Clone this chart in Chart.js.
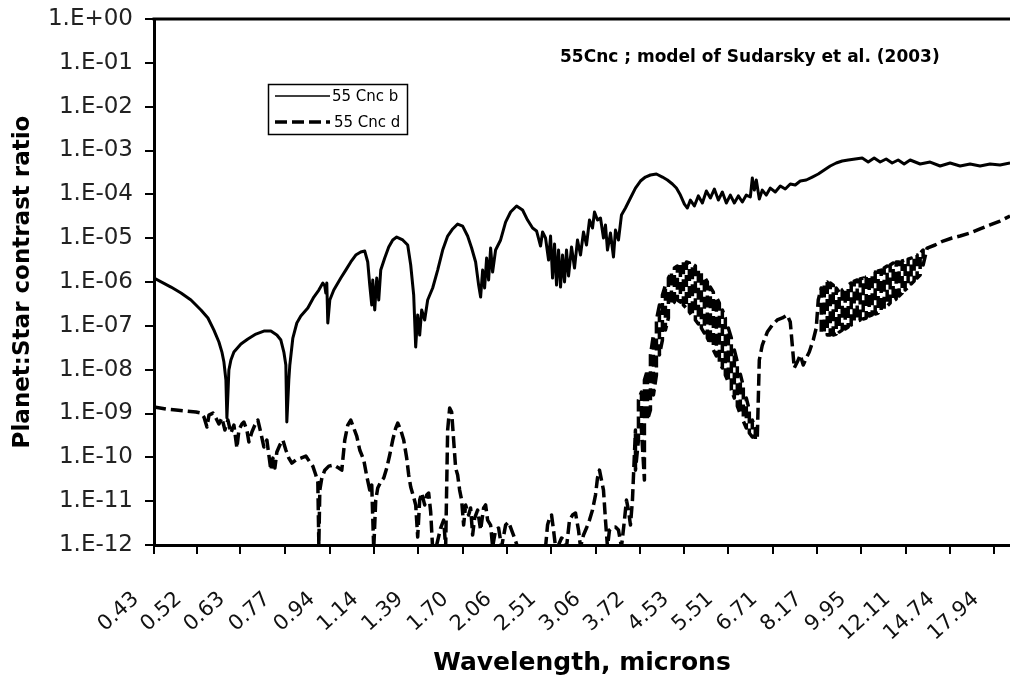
<!DOCTYPE html>
<html>
<head>
<meta charset="utf-8">
<script src="https://cdn.jsdelivr.net/npm/chart.js@4.4.1/dist/chart.umd.min.js"></script>
<style>
  html, body { margin: 0; padding: 0; background: #fff; }
</style>
</head>
<body>
<canvas id="myChart" width="1010" height="685"></canvas>
<script>
// Axis labels
const xTickLabels = ['0.43', '0.52', '0.63', '0.77', '0.94', '1.14', '1.39', '1.70', '2.06', '2.51',
  '3.06', '3.72', '4.53', '5.51', '6.71', '8.17', '9.95', '12.11', '14.74', '17.94'];
const yTickLabels = ['1.E+00', '1.E-01', '1.E-02', '1.E-03', '1.E-04', '1.E-05', '1.E-06',
  '1.E-07', '1.E-08', '1.E-09', '1.E-10', '1.E-11', '1.E-12'];
const noteText = '55Cnc ; model of Sudarsky et al. (2003)';

// 55 Cnc b - wavelength (microns) and planet:star contrast
const bWave = [
  0.430, 0.4637, 0.4848, 0.5067, 0.5297, 0.5464, 0.5611, 0.5737, 0.5814, 0.5866,
  0.5918, 0.5944, 0.5970, 0.5997, 0.6051, 0.6132, 0.6326, 0.6525, 0.6761, 0.7005,
  0.7226, 0.7421, 0.7554, 0.7655, 0.7723, 0.7757, 0.7826, 0.7861, 0.7967, 0.8109,
  0.8255, 0.8515, 0.8745, 0.8942, 0.9102, 0.9182, 0.9223, 0.9264, 0.9305, 0.9388,
  0.9556, 0.9858, 1.0078, 1.0305, 1.0535, 1.0772, 1.0965, 1.1111, 1.1211, 1.1311,
  1.1362, 1.1462, 1.1564, 1.1668, 1.1772, 1.1982, 1.2197, 1.2416, 1.2637, 1.2979,
  1.3269, 1.3448, 1.3627, 1.3748, 1.3871, 1.3995, 1.4120, 1.4308, 1.4500, 1.4826,
  1.5158, 1.5499, 1.5846, 1.6202, 1.6564, 1.6937, 1.7316, 1.7627, 1.7941, 1.8183,
  1.8345, 1.8509, 1.8673, 1.8839, 1.9008, 1.9178, 1.9348, 1.9606, 2.0047, 2.0496,
  2.0957, 2.1521, 2.2102, 2.2597, 2.3106, 2.3518, 2.3940, 2.4154, 2.4476, 2.4806,
  2.5027, 2.5250, 2.5473, 2.5700, 2.5931, 2.6161, 2.6395, 2.6629, 2.6866, 2.7108,
  2.7471, 2.7836, 2.8209, 2.8589, 2.8970, 2.9358, 2.9752, 3.0152, 3.0420, 3.0827,
  3.1242, 3.1659, 3.1941, 3.2226, 3.2659, 3.3095, 3.3390, 3.3840, 3.4293, 3.4904,
  3.5689, 3.6488, 3.7309, 3.8142, 3.9001, 4.0051, 4.1134, 4.2054, 4.3000, 4.3767,
  4.4553, 4.5348, 4.5955, 4.6574, 4.7405, 4.8257, 4.9121, 4.9997, 5.0895, 5.1803,
  5.2734, 5.3678, 5.4636, 5.5618, 5.6611, 5.7628, 5.8660, 5.9706, 6.0779, 6.1321,
  6.1864, 6.2415, 6.3253, 6.4103, 6.5247, 6.6418, 6.7904, 6.9432, 7.0984, 7.2581,
  7.4205, 7.5874, 7.7916, 8.0023, 8.2182, 8.4394, 8.6675, 8.9009, 9.1416, 9.3882,
  9.6835, 9.9897, 10.260, 10.536, 10.820, 11.112, 11.412, 11.720, 12.035, 12.361,
  12.922, 13.508, 14.121, 14.761, 15.431, 16.131, 16.863, 17.628, 18.427, 19.264
];
const bRatio = [
  1.23e-6, 7.67e-7, 5.6e-7, 3.88e-7, 2.30e-7, 1.51e-7, 8.0e-8, 4.27e-8, 2.52e-8, 1.49e-8,
  5.8e-9, 7.9e-10, 2.64e-9, 9.8e-9, 1.66e-8, 2.52e-8, 3.85e-8, 5.0e-8, 6.5e-8, 7.6e-8,
  7.6e-8, 6.17e-8, 4.74e-8, 2.52e-8, 1.28e-8, 6.4e-10, 5.8e-9, 1.28e-8, 5.27e-8, 1.16e-7,
  1.67e-7, 2.55e-7, 4.54e-7, 6.56e-7, 9.5e-7, 8.1e-7, 5.6e-7, 9.5e-7, 1.16e-7, 3.88e-7,
  6.56e-7, 1.23e-6, 1.87e-6, 2.86e-6, 4.12e-6, 4.83e-6, 5.09e-6, 2.86e-6, 8.5e-7, 2.98e-7,
  1.11e-6, 2.30e-7, 1.23e-6, 3.88e-7, 1.87e-6, 3.52e-6, 6.28e-6, 9.1e-6, 1.06e-5, 9.1e-6,
  6.98e-6, 2.44e-6, 5.05e-7, 3.28e-8, 1.77e-7, 6.17e-8, 2.30e-7, 1.36e-7, 3.88e-7, 7.3e-7,
  1.87e-6, 5.36e-6, 1.12e-5, 1.62e-5, 2.10e-5, 1.89e-5, 1.12e-5, 5.96e-6, 2.86e-6, 8.5e-7,
  4.54e-7, 1.87e-6, 7.3e-7, 3.52e-6, 1.11e-6, 5.96e-6, 1.69e-6, 5.36e-6, 9.1e-6, 2.33e-5,
  3.95e-5, 5.41e-5, 4.39e-5, 2.59e-5, 1.70e-5, 1.46e-5, 6.62e-6, 1.38e-5, 1.01e-5, 3.17e-6,
  1.12e-5, 1.23e-6, 7.35e-6, 8.5e-7, 5.36e-6, 7.67e-7, 4.12e-6, 1.0e-6, 5.36e-6, 1.37e-6,
  6.28e-6, 2.08e-6, 9.1e-6, 4.12e-6, 1.38e-5, 6.98e-6, 2.59e-5, 1.70e-5, 3.95e-5, 2.59e-5,
  2.88e-5, 1.01e-5, 2.0e-5, 5.36e-6, 1.31e-5, 3.72e-6, 1.53e-5, 9.1e-6, 3.37e-5, 4.87e-5,
  8.24e-5, 1.39e-4, 2.01e-4, 2.48e-4, 2.76e-4, 2.91e-4, 2.48e-4, 2.12e-4, 1.72e-4, 1.39e-4,
  9.6e-5, 6.0e-5, 4.87e-5, 7.4e-5, 5.41e-5, 9.2e-5, 6.34e-5, 1.19e-4, 8.24e-5, 1.32e-4,
  7.4e-5, 1.13e-4, 6.34e-5, 9.6e-5, 6.34e-5, 9.2e-5, 6.68e-5, 9.6e-5, 8.7e-5, 2.36e-4,
  1.25e-4, 2.12e-4, 7.8e-5, 1.25e-4, 9.6e-5, 1.39e-4, 1.13e-4, 1.55e-4, 1.32e-4, 1.72e-4,
  1.63e-4, 2.01e-4, 2.12e-4, 2.48e-4, 2.91e-4, 3.59e-4, 4.43e-4, 5.18e-4, 5.75e-4, 6.07e-4,
  6.4e-4, 6.74e-4, 5.46e-4, 6.74e-4, 5.46e-4, 6.4e-4, 5.18e-4, 6.07e-4, 4.92e-4, 6.07e-4,
  4.92e-4, 5.46e-4, 4.43e-4, 5.18e-4, 4.43e-4, 4.92e-4, 4.43e-4, 4.92e-4, 4.67e-4, 5.18e-4
];

// 55 Cnc d (the two noisy bands are read as upper and lower edge at each sample)
const dWave = [
  0.430, 0.4535, 0.4741, 0.4956, 0.5181, 0.5297, 0.5368, 0.5440, 0.5489, 0.5587,
  0.5661, 0.5737, 0.5814, 0.5892, 0.5971, 0.6051, 0.6132, 0.6214, 0.6270, 0.6354,
  0.6410, 0.6496, 0.6554, 0.6642, 0.6731, 0.6821, 0.6913, 0.7005, 0.7099, 0.7162,
  0.7226, 0.7291, 0.7356, 0.7421, 0.7521, 0.7622, 0.7723, 0.7827, 0.7932, 0.8073,
  0.8255, 0.8440, 0.8591, 0.8706, 0.8823, 0.8902, 0.8942, 0.8981, 0.9061, 0.9182,
  0.9346, 0.9556, 0.9771, 0.9902, 1.0033, 1.0168, 1.0304, 1.0442, 1.0582, 1.0724,
  1.0916, 1.1062, 1.1211, 1.1311, 1.1411, 1.1513, 1.1616, 1.1771, 1.1929, 1.2089,
  1.2251, 1.2415, 1.2581, 1.2693, 1.2864, 1.3036, 1.3211, 1.3329, 1.3448, 1.3627,
  1.3749, 1.3871, 1.3995, 1.4120, 1.4308, 1.4436, 1.4565, 1.4695, 1.4826, 1.5091,
  1.5361, 1.5567, 1.5706, 1.5846, 1.5987, 1.6130, 1.6273, 1.6418, 1.6565, 1.6712,
  1.6861, 1.7011, 1.7163, 1.7393, 1.7548, 1.7705, 1.7862, 1.8102, 1.8344, 1.8590,
  1.8756, 1.8923, 1.9177, 1.9348, 1.9606, 1.9869, 2.0136, 2.0496, 2.0771, 2.1050,
  2.1330, 2.1617, 2.1906, 2.4368, 2.4695, 2.4915, 2.5137, 2.5360, 2.5586, 2.5929,
  2.6277, 2.6629, 2.6867, 2.7227, 2.7592, 2.7960, 2.8335, 2.8588, 2.8970, 2.9358,
  2.9752, 3.0151, 3.0555, 3.0828, 3.1103, 3.1380, 3.1659, 3.1941, 3.2226, 3.2514,
  3.2950, 3.3390, 3.3838, 3.4292, 3.4750, 3.5060, 3.5373, 3.5688, 3.6006,
  3.6489, 3.6489, 3.6978, 3.6978, 3.7474, 3.7474, 3.7974, 3.7974, 3.8483, 3.8483,
  3.9000, 3.9000, 3.9521, 3.9521, 4.0051, 4.0051, 4.0588, 4.0588, 4.1132, 4.1132,
  4.1683, 4.1683, 4.2241, 4.2241, 4.2808, 4.2808, 4.3380, 4.3380, 4.3962, 4.3962,
  4.4551, 4.4551, 4.5147, 4.5147, 4.5752, 4.5752, 4.6366, 4.6366, 4.6988, 4.6988,
  4.7616, 4.7616, 4.8255, 4.8255, 4.8902, 4.8902, 4.9556, 4.9556, 5.0220, 5.0220,
  5.0894, 5.0894, 5.1574, 5.1574, 5.2266, 5.2266, 5.2966, 5.2966, 5.3677, 5.3677,
  5.4395, 5.4395, 5.5124, 5.5124, 5.5864, 5.5864, 5.6611, 5.6611, 5.7370, 5.7370,
  5.8139, 5.8139, 5.8917, 5.8917, 5.9707, 5.9707, 6.0508, 6.0508, 6.1319, 6.1319,
  6.2139, 6.2139,
  6.2694, 6.3253, 6.4101, 6.5538, 6.7009, 6.8511, 7.0049, 7.1619, 7.2579, 7.3227,
  7.3877, 7.4868, 7.5872, 7.6886, 7.7917, 7.8962, 8.0374, 8.1452, 8.2178,
  8.3280, 8.3280, 8.4394, 8.4394, 8.5526, 8.5526, 8.6673, 8.6673, 8.7832, 8.7832,
  8.9010, 8.9010, 9.0203, 9.0203, 9.1413, 9.1413, 9.2635, 9.2635, 9.3877, 9.3877,
  9.5136, 9.5136, 9.6408, 9.6408, 9.7701, 9.7701, 9.9011, 9.9011, 10.034, 10.034,
  10.169, 10.169, 10.305, 10.305, 10.443, 10.443, 10.583, 10.583, 10.724, 10.724,
  10.868, 10.868, 11.014, 11.014, 11.161, 11.161, 11.311, 11.311, 11.462, 11.462,
  11.616, 11.616, 11.771, 11.771, 11.929, 11.929, 12.089, 12.089, 12.251, 12.251,
  12.415, 12.415, 12.582, 12.582, 12.750, 12.750, 12.921, 12.921, 13.094, 13.094,
  13.329, 13.810, 14.309, 14.892, 15.430, 16.131, 16.862, 17.627, 18.427, 19.264
];
const dRatio = [
  1.40e-9, 1.26e-9, 1.20e-9, 1.14e-9, 1.08e-9, 1.02e-9, 8.3e-10, 4.91e-10, 9.2e-10, 1.02e-9,
  7.9e-10, 5.75e-10, 7.9e-10, 4.2e-10, 7.1e-10, 3.58e-10, 5.45e-10, 1.63e-10, 4.2e-10, 5.75e-10,
  6.4e-10, 4.2e-10, 2.23e-10, 3.78e-10, 5.45e-10, 7.1e-10, 3.58e-10, 1.72e-10, 2.48e-10, 1.13e-10,
  5.1e-11, 9.6e-11, 5.7e-11, 1.32e-10, 1.91e-10, 2.48e-10, 1.47e-10, 9.6e-11, 7.4e-11, 8.7e-11,
  9.6e-11, 1.07e-10, 7.8e-11, 6.3e-11, 3.94e-11, 2.73e-11, 1.0e-12, 1.79e-11, 3.37e-11, 5.1e-11,
  6.3e-11, 6.7e-11, 5.7e-11, 5.1e-11, 2.48e-10, 5.45e-10, 7.1e-10, 4.66e-10, 3.06e-10, 1.47e-10,
  8.7e-11, 3.74e-11, 1.79e-11, 2.33e-11, 8e-13, 1.06e-11, 2.0e-11, 2.73e-11, 3.37e-11, 5.7e-11,
  1.13e-10, 2.48e-10, 4.66e-10, 6.05e-10, 4.2e-10, 2.48e-10, 9.6e-11, 3.94e-11, 2.1e-11, 1.24e-11,
  8.2e-12, 1.52e-12, 1.06e-11, 1.53e-11, 8.2e-12, 1.38e-11, 1.53e-11, 5.65e-12, 8e-13, 1.0e-12,
  2.44e-12, 3.71e-12, 9e-13, 4.2e-10, 1.33e-9, 1.08e-9, 2.48e-10, 5.7e-11, 3.94e-11, 1.79e-11,
  1.06e-11, 2.85e-12, 8.2e-12, 4.82e-12, 6.97e-12, 1.69e-12, 4.12e-12, 6.27e-12, 2.19e-12, 6.97e-12,
  8.2e-12, 3.71e-12, 2.85e-12, 9e-13, 2.19e-12, 2.44e-12, 9e-13, 2.85e-12, 3.34e-12, 2.19e-12,
  1.44e-12, 9e-13, 5e-13, 5e-13, 2.85e-12, 4.12e-12, 4.82e-12, 2.19e-12, 9e-13, 1.0e-12,
  1.44e-12, 1.30e-12, 9e-13, 3.71e-12, 4.82e-12, 5.36e-12, 2.19e-12, 9e-13, 1.69e-12, 2.44e-12,
  3.71e-12, 6.27e-12, 1.38e-11, 3.37e-11, 5.1e-11, 3.03e-11, 1.79e-11, 3.71e-12, 9e-13, 2.19e-12,
  2.57e-12, 2.57e-12, 2.19e-12, 9e-13, 3.71e-12, 1.06e-11, 6.27e-12, 2.85e-12, 1.06e-11,
  4.2e-10, 5.1e-11, 2.48e-10, 2.03e-9, 3.09e-9, 4.2e-10, 3.03e-11, 5.8e-9, 9.8e-9, 7.1e-10,
  1.20e-9, 2.16e-8, 6.17e-8, 2.64e-9, 7.55e-9, 1.36e-7, 2.98e-7, 2.16e-8, 4.74e-8, 5.05e-7,
  8.5e-7, 8.0e-8, 1.51e-7, 1.23e-6, 1.69e-6, 2.98e-7, 3.49e-7, 2.08e-6, 2.31e-6, 3.88e-7,
  3.49e-7, 2.57e-6, 2.86e-6, 2.98e-7, 2.55e-7, 2.86e-6, 2.71e-6, 2.07e-7, 1.67e-7, 2.57e-6,
  2.31e-6, 1.36e-7, 1.10e-7, 1.87e-6, 1.60e-6, 8.9e-8, 6.85e-8, 1.30e-6, 1.0e-6, 5.27e-8,
  3.85e-8, 7.67e-7, 5.9e-7, 2.81e-8, 2.05e-8, 4.54e-7, 3.31e-7, 1.49e-8, 1.09e-8, 2.30e-7,
  1.51e-7, 7.55e-9, 5.22e-9, 8.9e-8, 5.27e-8, 3.43e-9, 2.25e-9, 2.81e-8, 1.49e-8, 1.48e-9,
  9.7e-10, 7.9e-9, 4.23e-9, 6.73e-10, 4.66e-10, 2.25e-9, 1.20e-9, 3.58e-10, 2.9e-10, 7.1e-10,
  4.66e-10, 2.48e-10,
  2.9e-10, 1.66e-8, 3.65e-8, 7.2e-8, 1.04e-7, 1.36e-7, 1.51e-7, 1.77e-7, 1.22e-7, 3.65e-8,
  1.09e-8, 1.49e-8, 2.16e-8, 1.28e-8, 1.84e-8, 2.52e-8, 4.74e-8, 8.9e-8, 3.88e-7,
  7.3e-7, 7.2e-8, 6.85e-8, 9.0e-7, 1.0e-6, 6.17e-8, 6.17e-8, 9.5e-7, 8.5e-7, 6.17e-8,
  6.5e-8, 7.3e-7, 5.9e-7, 7.2e-8, 8.0e-8, 6.56e-7, 7.3e-7, 8.45e-8, 9.4e-8, 8.5e-7,
  9.5e-7, 1.04e-7, 1.16e-7, 1.05e-6, 1.11e-6, 1.29e-7, 1.36e-7, 1.17e-6, 1.23e-6, 1.43e-7,
  1.51e-7, 1.30e-6, 1.37e-6, 1.67e-7, 1.77e-7, 1.52e-6, 1.69e-6, 1.86e-7, 1.96e-7, 1.78e-6,
  1.87e-6, 2.18e-7, 2.42e-7, 2.08e-6, 2.31e-6, 2.83e-7, 3.31e-7, 2.44e-6, 2.71e-6, 3.68e-7,
  4.09e-7, 2.86e-6, 2.86e-6, 4.79e-7, 5.6e-7, 3.01e-6, 3.17e-6, 6.56e-7, 7.67e-7, 3.34e-6,
  3.52e-6, 9.0e-7, 1.05e-6, 3.92e-6, 4.12e-6, 1.23e-6, 1.44e-6, 4.58e-6, 5.36e-6, 2.44e-6,
  5.96e-6, 6.98e-6, 8.6e-6, 1.01e-5, 1.12e-5, 1.31e-5, 1.62e-5, 2.0e-5, 2.46e-5, 3.2e-5
];

Chart.defaults.font.family = "'DejaVu Sans', sans-serif";
Chart.defaults.color = '#000';

// top edge of the frame, the model note and the boxed legend
const extras = {
  id: 'extras',
  afterDraw(chart) {
    const { ctx, chartArea: a } = chart;
    ctx.save();
    ctx.strokeStyle = '#000';
    ctx.lineWidth = 3;
    ctx.beginPath();
    ctx.moveTo(a.left - 1.5, a.top);
    ctx.lineTo(a.right, a.top);
    ctx.stroke();

    ctx.fillStyle = '#000';
    ctx.textBaseline = 'middle';
    ctx.font = "bold 17px 'DejaVu Sans'";
    ctx.fillText(noteText, 560, 58);

    ctx.lineWidth = 1.5;
    ctx.strokeRect(268.5, 84.5, 139, 50);
    const rows = [96, 122];
    const sampleWidth = [1.5, 3.5];
    ctx.font = "15px 'DejaVu Sans'";
    chart.data.datasets.forEach((ds, i) => {
      ctx.lineWidth = sampleWidth[i];
      ctx.setLineDash(ds.borderDash || []);
      ctx.beginPath();
      ctx.moveTo(275, rows[i]);
      ctx.lineTo(330, rows[i]);
      ctx.stroke();
      ctx.setLineDash([]);
      ctx.fillText(ds.label, 332 + i * 2, rows[i] + 1);
    });
    ctx.restore();
  }
};

const ctx = document.getElementById('myChart').getContext('2d');
new Chart(ctx, {
  type: 'line',
  data: {
    datasets: [
      {
        label: '55 Cnc b',
        data: bWave.map((w, i) => ({ x: w, y: bRatio[i] })),
        borderColor: '#000',
        borderWidth: 3,
        borderJoinStyle: 'round',
        pointRadius: 0,
        tension: 0,
        fill: false,
        clip: 0
      },
      {
        label: '55 Cnc d',
        data: dWave.map((w, i) => ({ x: w, y: dRatio[i] })),
        borderColor: '#000',
        borderWidth: 3.5,
        borderDash: [12, 5],
        borderJoinStyle: 'round',
        pointRadius: 0,
        tension: 0,
        fill: false,
        clip: 0
      }
    ]
  },
  options: {
    responsive: false,
    devicePixelRatio: 1,
    animation: false,
    layout: { padding: { top: 19, right: 0, bottom: 0, left: 0 } },
    plugins: {
      legend: { display: false },
      title: { display: false },
      tooltip: { enabled: false }
    },
    scales: {
      x: {
        type: 'logarithmic',
        min: 0.43,
        max: 19.26,
        afterBuildTicks: axis => { axis.ticks = xTickLabels.map(s => ({ value: Number(s) })); },
        afterFit: axis => {
          axis.height = 140;
          axis.paddingLeft = 0;
          axis.paddingRight = 0;
        },
        border: { display: true, color: '#000', width: 3 },
        grid: { drawOnChartArea: false, drawTicks: true, tickLength: 9, color: '#000', lineWidth: 2 },
        ticks: {
          autoSkip: false,
          minRotation: 42,
          maxRotation: 42,
          padding: 33,
          labelOffset: -18,
          color: '#111',
          font: { size: 21 },
          callback: (v, i) => xTickLabels[i]
        },
        title: {
          display: true,
          text: 'Wavelength, microns',
          color: '#000',
          font: { size: 25, weight: 'bold' },
          padding: { top: 0, bottom: 7 }
        }
      },
      y: {
        type: 'logarithmic',
        min: 1e-12,
        max: 1,
        afterBuildTicks: axis => { axis.ticks = yTickLabels.map(s => ({ value: Number(s) })); },
        afterFit: axis => {
          axis.width = 154;
          axis.paddingTop = 0;
          axis.paddingBottom = 0;
        },
        border: { display: true, color: '#000', width: 3 },
        grid: { drawOnChartArea: false, drawTicks: true, tickLength: 9, color: '#000', lineWidth: 2 },
        ticks: {
          autoSkip: false,
          padding: 12,
          color: '#222',
          font: { size: 23 },
          callback: (v, i) => yTickLabels[i]
        },
        title: {
          display: true,
          text: 'Planet:Star contrast ratio',
          color: '#000',
          font: { size: 23, weight: 'bold' },
          padding: { top: 9, bottom: 0 }
        }
      }
    }
  },
  plugins: [extras]
});
</script>
</body>
</html>
